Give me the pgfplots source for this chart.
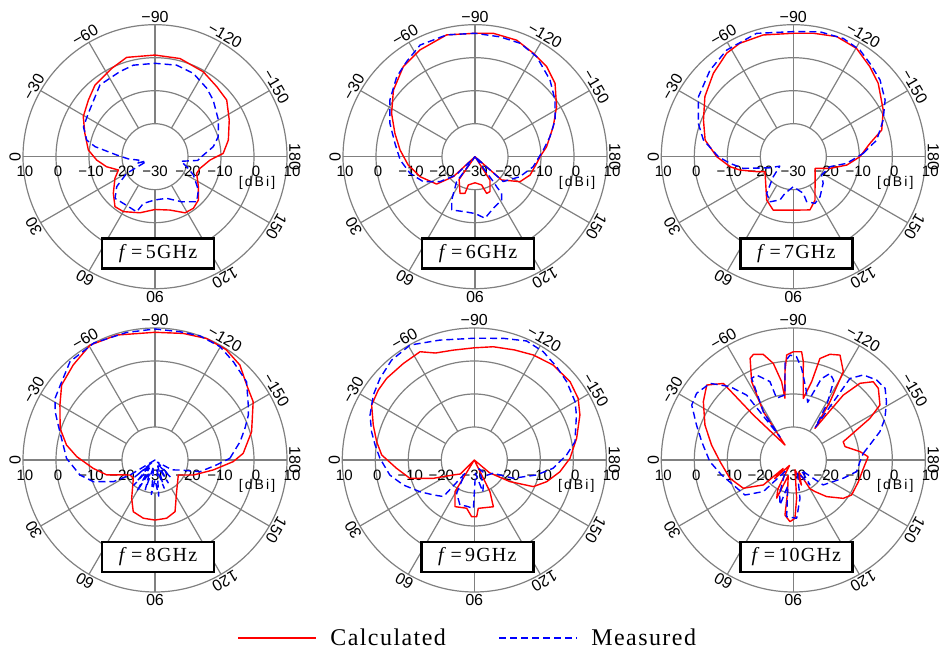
\documentclass[border=0pt]{standalone}
\usepackage{fontspec}
\setmainfont{Liberation Serif}
\newfontfamily\labfont{Liberation Sans}
\newfontfamily\dbifont[LetterSpace=15]{Liberation Sans}
\newfontfamily\legfont[LetterSpace=6]{Liberation Serif}
\newfontfamily\boxfont[LetterSpace=6]{Liberation Serif}
\usepackage{pgfplots}
\usepackage{pgfplotstable}
\pgfplotsset{compat=1.18}

\definecolor{gridgray}{RGB}{128,128,128}
\definecolor{calcred}{RGB}{255,0,0}
\definecolor{measblue}{RGB}{0,0,255}

% ---------- data: angle a [deg], gain g [dBi] ----------
\pgfplotstableread{
a g
-177.2 -9.3
-167.2 -7.2
-153.7 -4.9
-141.7 -2.3
-131.4 -1.7
-119.6 -0.4
-104.3 0.7
-90 0.8
-74.1 1.3
-63.9 -0.2
-50 -1.7
-40.4 -3.5
-29.2 -5.1
-18.4 -7.6
-5.7 -9.7
3.3 -12.3
11.7 -15.0
20 -18.2
28.4 -16.2
41.3 -13.2
51.3 -10.6
60.1 -10.8
75 -12.4
90 -14.0
105.7 -13.2
118.2 -10.7
126.6 -10.5
135 -11.4
145.3 -14.0
158.2 -16.4
165.5 -15.9
176.5 -13.3
182.8 -9.3
}\calcA
\pgfplotstableread{
a g
-180 -15.9
-170.3 -12.1
-162.5 -9.9
-149.9 -7.8
-135.8 -5.4
-127.1 -4.0
-114.7 -2.2
-103.3 -1.5
-90 -1.7
-76.7 -1.5
-67.6 -2.1
-52.5 -2.6
-33 -5.9
-22.7 -6.5
-13.7 -8.7
-9.5 -11.6
-2.5 -18.4
5 -22
12 -25
20 -24
25 -27
29.7 -26
30.5 -20.0
38 -15.3
46.2 -12.5
55.8 -12.9
71.6 -12.4
76 -15.4
90 -16.9
105.6 -16.9
120.7 -14.1
132.8 -11.4
142.4 -13.4
154.4 -17.1
160.7 -19.3
170 -22
175 -17
180 -15.9
}\measA
\pgfplotstableread{
a g
-180 -10.3
-172.1 -8.1
-159 -4.6
-148.5 -1.0
-137.5 2.9
-128.5 4.9
-119.4 6.0
-109.7 7.5
-98.5 7.8
-90 7.4
-76.9 7.9
-62.7 6.4
-51.5 4.9
-39.2 1.9
-27.5 -1.5
-16.3 -4.7
-5.1 -7.2
7.1 -9.6
20 -12.3
35.5 -15.7
42.7 -21.1
45 -30
50 -30
55 -21.6
67.8 -18.0
74.7 -18.5
76.8 -21.2
90 -22.1
103.2 -21.2
107.6 -18.3
113.2 -18.5
122.7 -21.6
130 -30
135 -30
138.8 -19.3
151 -14.4
161.6 -12.4
173.8 -11.2
180 -10.3
}\calcB
\pgfplotstableread{
a g
-174.4 -9.2
-165.1 -6.5
-155.4 -3.3
-144.7 -0.3
-134.4 2.5
-121.7 5.6
-111.7 7.0
-101.8 7.1
-90 7.4
-76.9 7.9
-63.8 7.7
-54.3 5.5
-45.6 3.9
-33.7 1.0
-21.4 -2.3
-9.5 -5.4
2.5 -7.3
14.4 -9.7
25.8 -12.6
35.5 -17.0
44 -22
48 -30
53.7 -20.6
61.7 -15.1
66.4 -12.4
78 -13.0
90 -12.8
99.2 -11.1
109.5 -13.4
121.6 -14.6
126 -16.3
125.8 -18.8
126.3 -20.6
130 -30
138.6 -18.6
156 -15.1
170.3 -12.1
185.6 -9.2
}\measB
\pgfplotstableread{
a g
-180 -9.8
-170.1 -6.4
-163.2 -2.0
-152.6 0.7
-139.2 4.0
-130.4 5.8
-120.3 8.0
-109.9 8.7
-99.2 7.9
-90 7.4
-76.1 8.0
-64.8 8.0
-57.2 7.3
-46.2 5.0
-34.2 2.4
-22.2 -0.6
-10.7 -2.8
0 -6.8
9 -10.6
14 -13.3
22.2 -18.0
27.9 -20.3
58.4 -14.6
69.4 -12.7
90 -13.8
107.4 -13.1
116.6 -15.3
151.7 -22.5
162.4 -18.3
171.1 -13.6
180 -9.8
}\calcC
\pgfplotstableread{
a g
-177.3 -8.8
-168.7 -4.2
-157.8 -0.6
-148.3 2.7
-138.5 5.1
-129.4 6.6
-122 8.1
-112.9 8.9
-102 8.7
-90 7.9
-73.4 9.0
-58 8.1
-46.1 6.4
-32.3 4.0
-19.3 0.5
-10.5 -2.3
0 -7.3
6 -10.7
13.1 -14.4
20 -20
25 -22
35 -25
45 -21.4
54 -16.3
62.6 -14.6
72.9 -16.3
77.2 -18.6
90 -20.9
105.3 -18.5
106.5 -15.8
114.9 -14.4
123.7 -15.4
138.4 -17.9
147.1 -19.8
164.7 -18.5
172.9 -13.7
182.7 -8.8
}\measC
\pgfplotstableread{
a g
-175.7 -3.2
-163.7 0.5
-149.3 4.6
-140.7 5.9
-131.8 8.6
-122.7 9.8
-113 10.0
-102.6 9.3
-90 8.7
-73 9.6
-60.5 10.0
-49.3 8.0
-38.8 6.3
-30.1 3.3
-18.4 0.3
-9.6 -2.8
-2.4 -6.3
7.7 -11.1
17.2 -14.7
31 -21.2
40.2 -21.4
58.7 -16.4
67.2 -13.0
78.7 -12.0
90 -11.8
101.3 -12.0
111.2 -13.2
124.4 -18.4
147.3 -21.6
158.6 -17.5
170.3 -12.1
178.8 -6.3
184.3 -3.2
}\calcD
\pgfplotstableread{
a g
-178.7 -7.3
-167.8 -3.6
-160.6 -1.1
-154.3 1.4
-149.5 2.8
-139.5 6.5
-128.5 8.1
-119.8 9.6
-109.8 10.0
-101 9.6
-90 9.7
-77.5 9.6
-62.5 10.0
-49.2 9.4
-40 6.9
-31.7 5.6
-25.8 3.6
-19.9 1.2
-9.3 -1.8
-1 -3.2
11.3 -6.8
19.4 -10.2
27.5 -15.8
31 -21.2
36 -30
40 -22
45 -28
50 -20
55 -27
60 -19
66 -26
72 -20.5
78 -28
84 -19.5
90 -24
96 -19
102 -27
108 -21
114 -28
120 -22
126 -28
132 -23
140 -29
150 -24
158.2 -21.8
165.5 -15.9
175.4 -11.3
181.3 -7.3
}\measD
\pgfplotstableread{
a g
-179 -1.0
-168 1.7
-156.9 4.8
-149.3 6.6
-140.7 7.5
-129.7 7.4
-119.3 6.5
-110 5.5
-99.5 4.8
-90 4.0
-79.2 3.9
-70 4.5
-63.4 6.7
-53.7 6.3
-43 6.3
-36.1 6.0
-28.2 5.3
-19.1 2.4
-10.6 0.1
-3.1 -1.9
6.1 -6.3
15.9 -9.7
24.1 -16.4
35.5 -22.2
45 -24
50 -30
58.6 -18.8
67.5 -14.7
81 -15.2
87.3 -12.8
92.4 -12.8
94.7 -15.3
112.2 -14.7
116.3 -19.3
125 -30
140 -24
148.7 -17.4
155.7 -10.4
163.3 -7.1
172.2 -3.8
181 -1.0
}\calcE
\pgfplotstableread{
a g
-176.9 -2.0
-169.7 1.0
-156.3 3.8
-149.9 5.3
-139.7 6.7
-131.4 7.7
-122.5 8.9
-113.7 9.4
-103.4 7.9
-90 6.9
-74 7.8
-60.8 9.9
-50.4 9.3
-40.9 7.8
-32.8 6.4
-23.3 4.4
-15.4 2.3
-8.6 0.4
-1 -1.4
10.1 -4.0
19.4 -7.2
30.2 -10.9
40.5 -13.7
49.8 -15.5
55 -25
62 -18.6
72.3 -15.7
80.7 -15.8
89 -15.3
95 -26
105 -20
110 -22
118 -27
130 -24
145 -23
154.8 -17.0
166.5 -10.6
174 -6.0
183.1 -2.0
}\measE
\pgfplotstableread{
a g
-177.5 -7.3
-172.9 -9.6
-165.5 -13.8
-159.9 -13.9
-151.5 -3.6
-147.6 1.1
-139.9 3.7
-135.6 3.9
-131 0.8
-127.6 -5.2
-124.4 -18.4
-122.2 -9.1
-119.5 0.8
-114 4.8
-109.1 3.9
-104.7 1.8
-103.2 -5.6
-99.2 -11.1
-95.8 0.0
-94.4 2.9
-90 2.8
-86.4 1.9
-84.6 -3.1
-82.3 -11.1
-81.5 -6.0
-78.3 -0.1
-74.1 3.3
-69.3 4.2
-67 3.5
-62 -3.1
-58.2 -12.8
-61 -24.8
-48.4 -11.8
-47.6 1.4
-40.9 4.7
-33 2.5
-21.6 -1.2
-10.4 -4.8
1.3 -7.8
16.1 -10.0
29.5 -12.6
39.8 -18.2
40 -26
45 -22
55 -28
62 -20
66.5 -17.4
72 -25
80 -20
81.4 -13.1
86.9 -11.3
91.6 -12.3
95 -18.4
100 -27
108 -22
115 -26
120 -20
124.4 -18.4
132.3 -15.0
142.5 -10.9
149 -9.4
161.6 -9.2
173.2 -8.6
182.5 -7.3
}\calcF
\pgfplotstableread{
a g
-174.6 -8.7
-168.9 -6.4
-161.9 -2.4
-155.6 0.5
-148 3.3
-142 5.3
-136.2 5.0
-129.5 3.4
-124.8 0.1
-124 -18
-121 -10
-117 -3
-113 -1.5
-109 -4
-104 -12
-100 -8
-95.2 -2.1
-91.8 1.3
-88.2 1.8
-85.2 -0.1
-82.7 -10.1
-74.9 -10.6
-73.4 -5.2
-66.7 -2.0
-63 -2.2
-58.2 -12.8
-60 -22
-54.3 -5.8
-49.2 -0.6
-42.6 4.3
-34.6 5.6
-28.4 5.0
-19.9 1.2
-11.3 -1.7
1.1 -4.7
11.8 -7.8
22.6 -10.3
35.9 -11.9
46.5 -16.8
55 -26
61 -24
68 -19
73.5 -15.8
78 -22
83.3 -12.7
93.3 -12.3
99.9 -18.2
108 -26
118 -24
123.7 -20.9
128 -26
140.2 -18.2
159.9 -13.9
169.6 -10.5
178.6 -9.8
185.4 -8.7
}\measF

\pgfplotsset{
  calc/.style={calcred, line width=1.4pt, no markers, data cs=polar, line join=round},
  meas/.style={measblue, line width=1.4pt, no markers, data cs=polar, dash pattern=on 7pt off 4pt, line join=round},
}
\tikzset{lab/.style={font=\labfont\fontsize{16}{16}\selectfont, inner sep=0pt},
         rlab/.style={font=\labfont\fontsize{15}{15}\selectfont, inner sep=0pt}}

% polar grid, labels and frequency box centred at (#1pt,#2pt)
\newcommand{\polargrid}[3]{%
  \begin{scope}[shift={(#1pt,#2pt)}]
    \foreach \rr in {33,66,99,132}
      \draw[gridgray, line width=1.2pt] (0,0) circle[radius=\rr pt];
    \foreach \an in {0,30,...,330}
      \draw[gridgray, line width=1.2pt] (\an:33pt) -- (\an:132pt);
    \foreach \t/\s in {-150/−150,-120/−120,-90/−90,-60/−60,-30/−30,0/0,30/30,60/60,90/90,120/120,150/150,180/180}
      \node[lab, rotate=\t+90] at (\t+180:140pt) {\s};
    \foreach \x/\s in {-130/10,-97/0,-64/−10,-33/−20,0/−30,33/−20,65/−10,101/0,137/10}
      \node[rlab] at (\x pt,-15pt) {\s};
    \node[inner sep=0pt, font=\dbifont\fontsize{14}{14}\selectfont] at (102pt,-26pt) {[dBi]};
    \node[draw=black, line width=2.4pt, fill=white, minimum width=112pt, minimum height=30pt, inner sep=0pt,
          font=\boxfont\fontsize{20}{20}\selectfont] at (3pt,-97pt) {\textit{f}\,=\,#3GHz};
  \end{scope}}

\newcommand{\polarpanel}[5][]{%
  \begin{axis}[at={(#2pt-132pt,#3pt-132pt)}, anchor=south west, scale only axis,
    width=264pt, height=264pt, xmin=-40, xmax=40, ymin=-40, ymax=40,
    hide axis, clip=false, #1]
    \addplot[calc] table[x expr=\thisrow{a}+180, y expr={max(\thisrow{g}+30,0)}] {#4};
    \addplot[meas] table[x expr=\thisrow{a}+180, y expr={max(\thisrow{g}+30,0)}] {#5};
  \end{axis}}

\begin{document}
\begin{tikzpicture}
\useasboundingbox (0,0) rectangle (940pt,652pt);
\polargrid{155}{495.3}{5}
\polargrid{475}{495.3}{6}
\polargrid{793.3}{495.3}{7}
\polargrid{155}{192}{8}
\polargrid{474.3}{192}{9}
\polargrid{793.3}{192}{10}
\polarpanel{155}{495.3}{\calcA}{\measA}
\polarpanel{475}{495.3}{\calcB}{\measB}
\polarpanel{793.3}{495.3}{\calcC}{\measC}
\polarpanel{155}{192}{\calcD}{\measD}
\polarpanel[legend entries={Calculated,Measured},
  legend image code/.code={\draw[#1, line width=2.4pt] (0pt,0pt) -- (78pt,0pt);},
  legend style={draw=none, fill=none, at={(0.476,-0.174)}, anchor=center,
    legend columns=2, font=\legfont\fontsize{24}{24}\selectfont,
    /tikz/every odd column/.append style={column sep=10pt},
    /tikz/every even column/.append style={column sep=49pt},
    nodes={inner sep=3pt}}]{474.3}{192}{\calcE}{\measE}
\polarpanel{793.3}{192}{\calcF}{\measF}
\end{tikzpicture}
\end{document}
